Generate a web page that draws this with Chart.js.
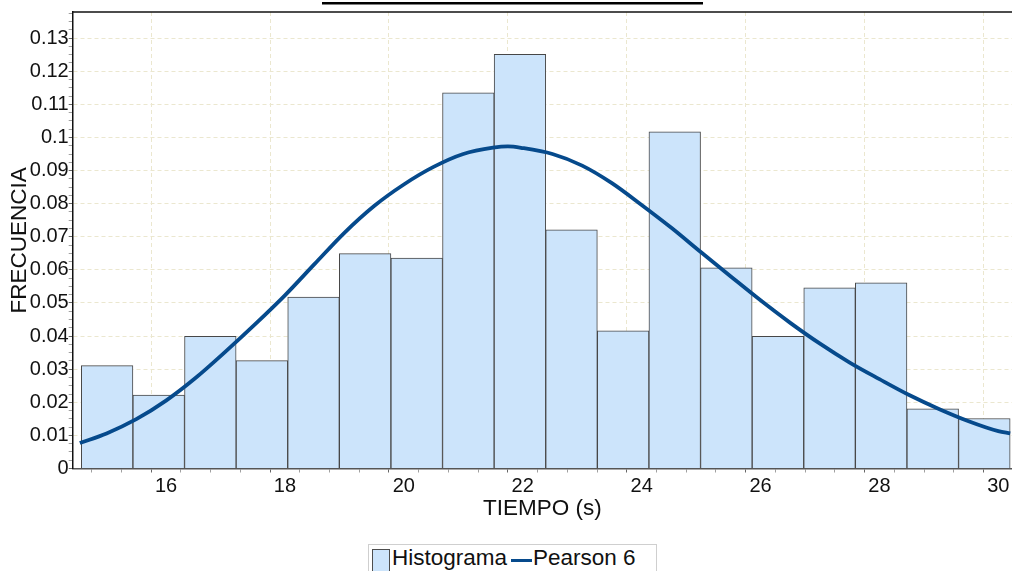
<!DOCTYPE html>
<html>
<head>
<meta charset="utf-8">
<title>Histograma TIEMPO</title>
<script src="https://cdn.jsdelivr.net/npm/chart.js@4.4.1/dist/chart.umd.min.js"></script>
<style>
  html, body { margin: 0; padding: 0; background: #fff; }
  #wrap { position: relative; width: 1012px; height: 571px; overflow: hidden;
          font-family: "Liberation Sans", Arial, sans-serif; }
  #chart { position: absolute; left: 0; top: 0; }
  #legend { position: absolute; left: 368px; top: 544px; width: 289px; height: 40px;
            border: 1px solid #cfcfcf; box-sizing: border-box; background: #fff; }
  #legend .sw-bar { position: absolute; left: 3px; top: 4px; width: 18px; height: 30px;
                    background: #cce4fb; border: 1px solid #4d4d4d; box-sizing: border-box; }
  #legend .sw-line { position: absolute; left: 142px; top: 14px; width: 21px; height: 3px;
                     background: #064a8c; }
  #legend .txt { position: absolute; top: 2px; font-size: 22.5px; line-height: 22.5px;
                 color: #111; white-space: nowrap; }
</style>
</head>
<body>
<div id="wrap">
  <canvas id="chart" width="1012" height="571"></canvas>
  <div id="legend">
    <span class="sw-bar"></span><span class="txt" style="left:23px">Histograma</span>
    <span class="sw-line"></span><span class="txt" style="left:164px">Pearson 6</span>
  </div>
</div>
<script>
// Histogram bins (centre of each class, seconds) and relative frequency
const BIN_CENTERS = [15.009, 15.877, 16.745, 17.613, 18.481, 19.349, 20.217, 21.085, 21.953,
                     22.821, 23.689, 24.557, 25.425, 26.293, 27.161, 28.029, 28.897, 29.765];
const FREQ = [0.0311, 0.0222, 0.0399, 0.0326, 0.0518, 0.0649, 0.0636, 0.1135, 0.1251,
              0.0721, 0.0416, 0.1017, 0.0606, 0.0399, 0.0546, 0.0561, 0.0180, 0.0151];

// Fitted Pearson 6 density
const CURVE_X = [14.55, 15.0, 15.5, 16.0, 16.5, 17.0, 17.5, 18.0, 18.5, 19.0, 19.5, 20.0, 20.5,
                 21.0, 21.5, 21.75, 22.0, 22.5, 23.0, 23.5, 24.0, 24.5, 25.0, 25.5, 26.0, 26.5,
                 27.0, 27.5, 28.0, 28.5, 29.0, 29.5, 30.0, 30.2];
const CURVE_Y = [0.0077, 0.0106, 0.0149, 0.0205, 0.0274, 0.0353, 0.0436, 0.0523, 0.0618, 0.0712,
                 0.0793, 0.0858, 0.0911, 0.0950, 0.0969, 0.0973, 0.0968, 0.0950, 0.0915, 0.0862,
                 0.0796, 0.0727, 0.0653, 0.0580, 0.0508, 0.0440, 0.0377, 0.0320, 0.0270, 0.0222,
                 0.0180, 0.0143, 0.0113, 0.0106];

// Axes
const X_RANGE = [14.43, 30.23];
const Y_RANGE = [0, 0.1379];
const X_MAJOR_TICKS = [16, 18, 20, 22, 24, 26, 28, 30];
const Y_MAJOR_TICKS = [0, 0.01, 0.02, 0.03, 0.04, 0.05, 0.06, 0.07, 0.08, 0.09, 0.1, 0.11, 0.12, 0.13];
const X_MINOR_STEP = 0.5;
const Y_MINOR_STEP = 0.0025;

const FONT = '"Liberation Sans", Arial, sans-serif';
const GRID_COLOR = '#ebe7cf';
const isMajor = (list, v) => list.some(m => Math.abs(m - v) < 1e-6);
const tickIsMajor = (list, c) => !!(c && c.tick) && isMajor(list, c.tick.value);

function minorTicks(scale, step) {
  const out = [];
  const n0 = Math.ceil(scale.min / step - 1e-9);
  const n1 = Math.floor(scale.max / step + 1e-9);
  for (let n = n0; n <= n1; n++) out.push({ value: +(n * step).toFixed(6) });
  scale.ticks = out;
}

// Frame line along the top of the plot and the heading rule
const framePlugin = {
  id: 'frame',
  afterDraw(chart) {
    const { ctx, chartArea } = chart;
    ctx.save();
    ctx.strokeStyle = '#111';
    ctx.lineWidth = 1.5;
    ctx.beginPath();
    ctx.moveTo(chartArea.left, chartArea.top);
    ctx.lineTo(chartArea.right, chartArea.top);
    ctx.stroke();
    ctx.lineWidth = 2.6;
    ctx.strokeStyle = '#000';
    ctx.beginPath();
    ctx.moveTo(322, 3.3);
    ctx.lineTo(703, 3.3);
    ctx.stroke();
    ctx.restore();
  }
};

new Chart(document.getElementById('chart'), {
  type: 'bar',
  data: {
    datasets: [
      {
        type: 'line',
        label: 'Pearson 6',
        data: CURVE_X.map((x, i) => ({ x, y: CURVE_Y[i] })),
        borderColor: '#064a8c',
        borderWidth: 3.8,
        pointRadius: 0,
        cubicInterpolationMode: 'monotone',
        fill: false,
        order: 1
      },
      {
        type: 'bar',
        label: 'Histograma',
        data: BIN_CENTERS.map((x, i) => ({ x, y: FREQ[i] })),
        backgroundColor: '#cce4fb',
        borderColor: '#474747',
        borderWidth: 1,
        barPercentage: 1,
        categoryPercentage: 1,
        barThickness: 'flex',
        order: 2
      }
    ]
  },
  options: {
    responsive: false,
    animation: false,
    layout: { padding: { top: 9.3, right: 0, bottom: 0, left: 0 } },
    plugins: { legend: { display: false }, tooltip: { enabled: false }, title: { display: false } },
    scales: {
      x: {
        type: 'linear',
        offset: false,
        min: X_RANGE[0],
        max: X_RANGE[1],
        afterBuildTicks: s => minorTicks(s, X_MINOR_STEP),
        afterFit: s => { s.height = 102.5; },
        ticks: {
          autoSkip: false, maxRotation: 0, padding: 1.5,
          color: '#111', font: { family: FONT, size: 20 },
          callback: v => isMajor(X_MAJOR_TICKS, v) ? String(v) : ''
        },
        grid: {
          color: c => tickIsMajor(X_MAJOR_TICKS, c) ? GRID_COLOR : 'rgba(0,0,0,0)',
          lineWidth: 1,
          tickLength: 4,
          tickColor: c => tickIsMajor(X_MAJOR_TICKS, c) ? '#666' : '#a0a0a0',
          tickWidth: 1
        },
        border: { display: true, color: '#555', width: 1.5, dash: [4, 3] },
        title: {
          display: true, text: 'TIEMPO (s)', color: '#111',
          font: { family: FONT, size: 22.5 }, padding: { top: 0, bottom: 49 }
        }
      },
      y: {
        type: 'linear',
        min: Y_RANGE[0],
        max: Y_RANGE[1],
        afterBuildTicks: s => minorTicks(s, Y_MINOR_STEP),
        afterFit: s => { s.width = 72.7; },
        ticks: {
          autoSkip: false, padding: 0,
          color: '#111', font: { family: FONT, size: 20 },
          callback: v => isMajor(Y_MAJOR_TICKS, v) ? String(+v.toFixed(2)) : ''
        },
        grid: {
          color: c => tickIsMajor(Y_MAJOR_TICKS, c) ? GRID_COLOR : 'rgba(0,0,0,0)',
          lineWidth: 1,
          tickLength: 4,
          tickColor: c => tickIsMajor(Y_MAJOR_TICKS, c) ? '#666' : '#a0a0a0',
          tickWidth: 1
        },
        border: { display: true, color: '#111', width: 1.5, dash: [4, 3] },
        title: {
          display: true, text: 'FRECUENCIA', color: '#111',
          font: { family: FONT, size: 22.5 }, padding: { top: 6, bottom: 0 }
        }
      }
    }
  },
  plugins: [framePlugin]
});
</script>
</body>
</html>
